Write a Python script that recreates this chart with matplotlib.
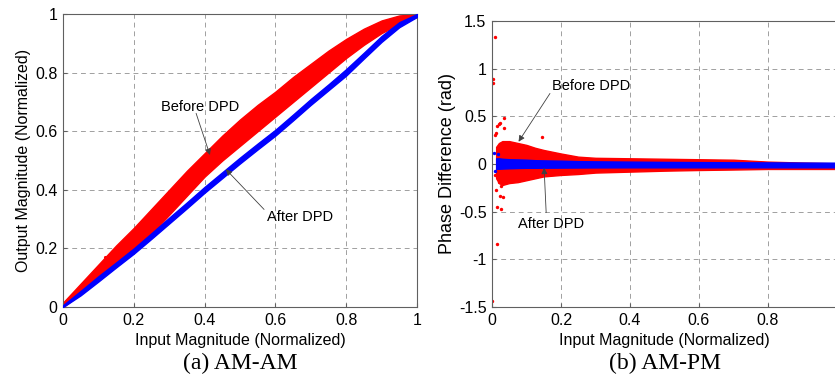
import matplotlib
matplotlib.use('Agg')
import matplotlib.pyplot as plt

# AM-AM: edges of the scatter bands
amam_x = [0, 0.05, 0.1, 0.15, 0.2, 0.25, 0.3, 0.35, 0.4, 0.45, 0.5,
          0.55, 0.6, 0.65, 0.7, 0.75, 0.8, 0.85, 0.9, 0.95, 1.0]
before_lo = [0.0, 0.045, 0.095, 0.14, 0.19, 0.25, 0.315, 0.38, 0.445, 0.50, 0.55,
             0.60, 0.65, 0.70, 0.75, 0.80, 0.85, 0.895, 0.935, 0.965, 0.99]
before_hi = [0.015, 0.08, 0.145, 0.21, 0.27, 0.335, 0.40, 0.465, 0.525, 0.585, 0.64,
             0.69, 0.735, 0.785, 0.83, 0.875, 0.915, 0.95, 0.978, 0.995, 1.0]
after_lo = [0.0, 0.04, 0.087, 0.135, 0.182, 0.233, 0.285, 0.337, 0.39, 0.44, 0.49,
            0.538, 0.585, 0.637, 0.69, 0.74, 0.79, 0.848, 0.905, 0.955, 0.99]
after_hi = [0.006, 0.055, 0.105, 0.152, 0.2, 0.252, 0.305, 0.357, 0.41, 0.46, 0.51,
            0.558, 0.605, 0.657, 0.71, 0.76, 0.812, 0.868, 0.925, 0.972, 1.0]
amam_stray_x = [0.119, 0.608, 0.667]
amam_stray_y = [0.17, 0.667, 0.723]

# AM-PM: dense part of the clouds
ampm_x = [0.012, 0.02, 0.03, 0.05, 0.075, 0.1, 0.125, 0.15, 0.2, 0.25, 0.3,
          0.4, 0.5, 0.6, 0.7, 0.8, 0.9, 1.0]
pm_before_hi = [0.18, 0.22, 0.24, 0.24, 0.22, 0.2, 0.17, 0.147, 0.11, 0.077, 0.065,
                0.06, 0.055, 0.05, 0.045, 0.025, 0.015, 0.007]
pm_before_lo = [-0.15, -0.2, -0.22, -0.2, -0.19, -0.17, -0.15, -0.13, -0.115, -0.105, -0.09,
                -0.08, -0.07, -0.063, -0.058, -0.052, -0.052, -0.052]
pm_after_hi = [0.06, 0.06, 0.055, 0.05, 0.048, 0.045, 0.04, 0.038, 0.035, 0.03, 0.028,
               0.025, 0.022, 0.02, 0.018, 0.017, 0.015, 0.014]
pm_after_lo = [-0.05, -0.05, -0.048, -0.045, -0.042, -0.04, -0.04, -0.039, -0.038, -0.037, -0.036,
               -0.035, -0.035, -0.035, -0.035, -0.035, -0.035, -0.035]
# sparse outliers
pm_before_out_x = [0.0087, 0.004, 0.002, 0.0136, 0.001, 0.035, 0.015, 0.019, 0.023, 0.008,
                   0.035, 0.012, 0.145, 0.022, 0.032, 0.012, 0.015, 0.025, 0.027, 0.019, 0.008]
pm_before_out_y = [1.335, 0.89, 0.85, -0.84, -1.44, 0.48, 0.40, 0.42, 0.43, 0.30,
                   0.38, 0.32, 0.28, -0.34, -0.35, -0.27, -0.45, -0.475, -0.23, -0.185, -0.115]
pm_after_out_x = [0.006, 0.017, 0.01]
pm_after_out_y = [0.12, 0.11, -0.07]

sans = 'Liberation Sans'
fs = 11.5
red = '#ff0000'
blue = '#0000ff'
grid_col = '#a0a0a0'
spine_col = '#606060'

fig = plt.figure(figsize=(8.35, 3.81), dpi=100)
ax1 = fig.add_axes([63 / 835, 74 / 381, 354 / 835, 293 / 381])
ax2 = fig.add_axes([492 / 835, 74 / 381, 345 / 835, 286 / 381])


def style(ax):
    for s in ax.spines.values():
        s.set_color(spine_col)
        s.set_linewidth(0.8)
    ax.grid(True, color=grid_col, linestyle=(0, (5, 4)), linewidth=0.7)
    ax.set_axisbelow(True)
    ax.tick_params(direction='in', length=3, color=spine_col, labelsize=fs, pad=4)
    for lbl in ax.get_xticklabels() + ax.get_yticklabels():
        lbl.set_fontfamily(sans)


# AM-AM
ax1.fill_between(amam_x, before_lo, before_hi, color=red, lw=1.0, zorder=2)
ax1.scatter(amam_stray_x, amam_stray_y, s=5, color=red, lw=0, zorder=2)
ax1.fill_between(amam_x, after_lo, after_hi, color=blue, lw=1.0, zorder=3)
ax1.set_xlim(0, 1)
ax1.set_ylim(0, 1)
ax1.set_xticks([0, 0.2, 0.4, 0.6, 0.8, 1])
ax1.set_xticklabels(['0', '0.2', '0.4', '0.6', '0.8', '1'])
ax1.set_yticks([0, 0.2, 0.4, 0.6, 0.8, 1])
ax1.set_yticklabels(['0', '0.2', '0.4', '0.6', '0.8', '1'])
style(ax1)
ax1.set_xlabel('Input Magnitude (Normalized)', family=sans, fontsize=fs, labelpad=4)
ax1.set_ylabel('Output Magnitude (Normalized)', family=sans, fontsize=fs, labelpad=3)

arrow = dict(arrowstyle='-|>', color='#404040', lw=0.6, mutation_scale=9, shrinkA=0, shrinkB=0)
ax1.annotate('', xy=(0.415, 0.519), xytext=(0.376, 0.661), arrowprops=arrow)
ax1.text(0.276, 0.683, 'Before DPD', fontsize=fs - 1, family=sans, va='center', ha='left')
ax1.annotate('', xy=(0.46, 0.47), xytext=(0.568, 0.333), arrowprops=arrow)
ax1.text(0.577, 0.307, 'After DPD', fontsize=fs - 1, family=sans, va='center', ha='left')

# AM-PM
ax2.fill_between(ampm_x, pm_before_lo, pm_before_hi, color=red, lw=1.0, zorder=2)
ax2.scatter(pm_before_out_x, pm_before_out_y, s=6, color=red, lw=0, zorder=2)
ax2.fill_between(ampm_x, pm_after_lo, pm_after_hi, color=blue, lw=1.0, zorder=3)
ax2.scatter(pm_after_out_x, pm_after_out_y, s=6, color=blue, lw=0, zorder=3)
ax2.set_xlim(0, 1)
ax2.set_ylim(-1.5, 1.5)
ax2.set_xticks([0, 0.2, 0.4, 0.6, 0.8])
ax2.set_xticklabels(['0', '0.2', '0.4', '0.6', '0.8'])
ax2.set_yticks([-1.5, -1, -0.5, 0, 0.5, 1, 1.5])
ax2.set_yticklabels(['-1.5', '-1', '-0.5', '0', '0.5', '1', '1.5'])
style(ax2)
ax2.set_xlabel('Input Magnitude (Normalized)', family=sans, fontsize=fs, labelpad=4)
ax2.set_ylabel('Phase Difference (rad)', family=sans, fontsize=13, labelpad=2)

ax2.annotate('', xy=(0.077, 0.234), xytext=(0.168, 0.74), arrowprops=arrow)
ax2.text(0.173, 0.82, 'Before DPD', fontsize=fs - 1, family=sans, va='center', ha='left')
ax2.annotate('', xy=(0.151, -0.04), xytext=(0.157, -0.51), arrowprops=arrow)
ax2.text(0.074, -0.63, 'After DPD', fontsize=fs - 1, family=sans, va='center', ha='left')

fig.text(240 / 835, 1 - 363 / 381, '(a) AM-AM', family='Liberation Serif', fontsize=17,
         ha='center', va='center')
fig.text(665 / 835, 1 - 363 / 381, '(b) AM-PM', family='Liberation Serif', fontsize=17,
         ha='center', va='center')

fig.savefig('out.png', dpi=100)
